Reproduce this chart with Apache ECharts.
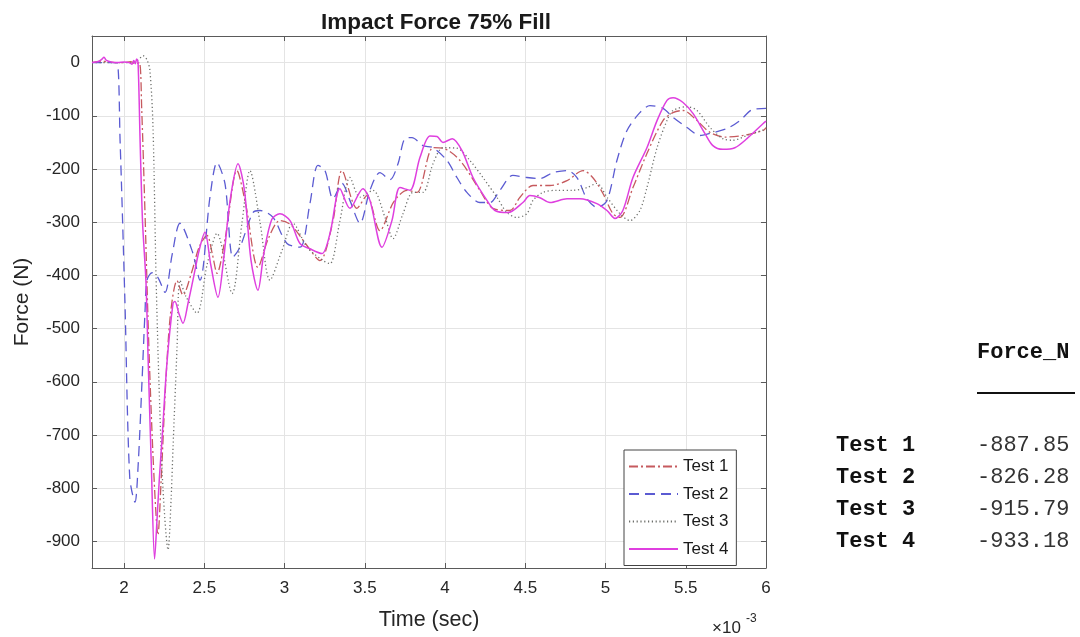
<!DOCTYPE html>
<html>
<head>
<meta charset="utf-8">
<title>Impact Force 75% Fill</title>
<script src="https://cdn.jsdelivr.net/npm/echarts@6/dist/echarts.min.js"></script>
<style>
  html, body { margin: 0; padding: 0; background: #ffffff; }
  #chart { width: 1080px; height: 637px; }
</style>
</head>
<body>
<div id="chart"></div>
<script>
// Time values are in units of 1e-3 s (the axis carries a x10^-3 multiplier).
const seriesNames = ['Test 1', 'Test 2', 'Test 3', 'Test 4'];

const test1Time = [1.80, 1.86, 1.90, 1.95, 2.00, 2.04, 2.07, 2.095, 2.11, 2.13, 2.155, 2.185, 2.211, 2.23, 2.26, 2.29, 2.33, 2.367, 2.42, 2.47, 2.517, 2.55, 2.579, 2.63, 2.703, 2.76, 2.834, 2.90, 2.971, 3.04, 3.13, 3.22, 3.30, 3.358, 3.451, 3.513, 3.594, 3.68, 3.763, 3.825, 3.925, 3.987, 4.093, 4.217, 4.298, 4.404, 4.467, 4.548, 4.654, 4.76, 4.86, 4.92, 4.984, 5.046, 5.09, 5.171, 5.258, 5.358, 5.42, 5.483, 5.57, 5.65, 5.744, 5.856, 5.98, 6.00];
const test1Force = [0, 3, 1, 0, 0, 2, -2, 0, -90, -280, -540, -770, -887.85, -790, -600, -470, -410, -437, -395, -345, -325, -360, -396, -330, -203, -270, -385, -330, -297, -305, -340, -372, -300, -203, -274, -250, -316, -262, -240, -244, -160, -161, -184, -240, -274, -278, -253, -231, -231, -222, -203, -216, -246, -284, -291, -235, -171, -109, -94, -90, -109, -131, -140, -137, -128, -122];

const test2Time = [1.80, 1.86, 1.92, 1.955, 1.975, 2.005, 2.035, 2.068, 2.087, 2.112, 2.13, 2.143, 2.174, 2.211, 2.255, 2.30, 2.348, 2.423, 2.473, 2.535, 2.579, 2.629, 2.678, 2.722, 2.803, 2.847, 2.928, 3.015, 3.096, 3.158, 3.208, 3.252, 3.302, 3.358, 3.407, 3.47, 3.532, 3.594, 3.657, 3.707, 3.75, 3.794, 3.862, 3.925, 4.012, 4.074, 4.136, 4.217, 4.28, 4.342, 4.423, 4.51, 4.591, 4.672, 4.76, 4.822, 4.884, 4.946, 5.009, 5.071, 5.133, 5.214, 5.277, 5.358, 5.421, 5.508, 5.589, 5.651, 5.757, 5.837, 5.918, 6.00];
const test2Force = [0, 0, 0, 0, -147, -447, -779, -826.28, -760, -597, -471, -409, -395, -404, -432, -360, -302, -353, -409, -253, -188, -228, -366, -347, -282, -278, -291, -340, -347, -265, -193, -203, -256, -227, -259, -302, -240, -207, -220, -190, -143, -141, -156, -160, -184, -216, -244, -263, -263, -240, -212, -216, -218, -207, -203, -216, -256, -272, -259, -184, -128, -94, -81, -86, -103, -122, -137, -133, -124, -109, -88, -86];

const test3Time = [1.80, 1.90, 2.00, 2.037, 2.087, 2.118, 2.143, 2.161, 2.18, 2.199, 2.217, 2.242, 2.274, 2.293, 2.305, 2.33, 2.348, 2.386, 2.454, 2.517, 2.579, 2.673, 2.735, 2.784, 2.847, 2.909, 2.984, 3.052, 3.14, 3.239, 3.283, 3.345, 3.407, 3.47, 3.551, 3.626, 3.676, 3.738, 3.80, 3.862, 3.925, 3.987, 4.074, 4.155, 4.236, 4.323, 4.386, 4.448, 4.51, 4.548, 4.61, 4.697, 4.797, 4.884, 4.946, 5.009, 5.09, 5.152, 5.214, 5.258, 5.321, 5.383, 5.421, 5.508, 5.57, 5.651, 5.731, 5.794, 5.881, 6.00];
const test3Force = [0, 0, 0, 0, 5, 13, 5, -15, -120, -400, -600, -800, -915.79, -820, -723, -535, -409, -440, -471, -380, -321, -434, -300, -203, -300, -409, -353, -302, -347, -372, -378, -297, -216, -253, -240, -291, -331, -284, -244, -244, -190, -160, -161, -184, -216, -253, -282, -291, -284, -259, -244, -240, -240, -235, -227, -253, -284, -297, -278, -235, -160, -109, -90, -83, -90, -122, -143, -146, -137, -125];

const test4Time = [1.80, 1.84, 1.86, 1.875, 1.89, 1.92, 1.96, 2.00, 2.03, 2.05, 2.06, 2.07, 2.078, 2.087, 2.10, 2.115, 2.136, 2.15, 2.17, 2.19, 2.205, 2.22, 2.236, 2.267, 2.305, 2.317, 2.34, 2.367, 2.40, 2.429, 2.47, 2.504, 2.54, 2.585, 2.62, 2.66, 2.71, 2.75, 2.79, 2.834, 2.87, 2.92, 2.971, 3.034, 3.096, 3.158, 3.233, 3.283, 3.345, 3.407, 3.488, 3.532, 3.607, 3.669, 3.719, 3.781, 3.844, 3.906, 3.95, 3.987, 4.045, 4.105, 4.174, 4.261, 4.311, 4.392, 4.485, 4.529, 4.591, 4.654, 4.76, 4.84, 4.946, 5.009, 5.059, 5.108, 5.171, 5.258, 5.321, 5.383, 5.421, 5.483, 5.546, 5.619, 5.669, 5.731, 5.806, 5.881, 5.981, 6.00];
const test4Force = [0, 2, 6, 10, 4, 1, 0, 1, 0, -3, 4, -2, 7, 0, -150, -300, -410, -560, -760, -933.18, -860, -780, -710, -565, -452, -449, -470, -490, -450, -409, -350, -319, -380, -441, -370, -260, -190, -240, -370, -428, -360, -295, -284, -297, -340, -350, -359, -321, -237, -274, -237, -259, -347, -297, -235, -240, -178, -138, -139, -150, -143, -165, -216, -259, -278, -282, -263, -250, -254, -263, -256, -256, -265, -278, -293, -278, -216, -160, -109, -71, -66, -75, -96, -133, -156, -163, -160, -143, -115, -110];

const timeTicks = [2, 2.5, 3, 3.5, 4, 4.5, 5, 5.5, 6];
const forceTicks = [0, -100, -200, -300, -400, -500, -600, -700, -800, -900];

const seriesTimes = [test1Time, test2Time, test3Time, test4Time];
const seriesForces = [test1Force, test2Force, test3Force, test4Force];

const colors = ['#c65a5e', '#5b5bd2', '#6e706c', '#df3fdf'];
const dashes = [[9, 3, 2, 3], [10, 6], [1.2, 2.6], 'solid'];
const widths = [1.3, 1.3, 1.3, 1.5];

const uiFont = "'Liberation Sans', Arial, sans-serif";
const monoFont = "'Liberation Mono', 'Courier New', monospace";

const chart = echarts.init(document.getElementById('chart'), null, { renderer: 'canvas' });

const series = seriesNames.map((name, i) => ({
  name: name,
  type: 'line',
  xAxisIndex: 0,
  yAxisIndex: 0,
  data: seriesTimes[i].map((t, k) => [t, seriesForces[i][k]]),
  symbol: 'none',
  showSymbol: false,
  smooth: 0.3,
  lineStyle: { color: colors[i], width: widths[i], type: dashes[i] },
  itemStyle: { color: colors[i] },
  z: i === 3 ? 5 : 3
}));

// Peak (minimum) force per test, shown in the table beside the plot.
const peaks = seriesForces.map(f => Math.min.apply(null, f));

const tableGraphics = [
  { type: 'text', left: 977, top: 341, style: { text: 'Force_N', font: 'bold 22px ' + monoFont, fill: '#111' } },
  { type: 'line', shape: { x1: 977, y1: 393, x2: 1075, y2: 393 }, style: { stroke: '#111', lineWidth: 2 } }
];
seriesNames.forEach((name, i) => {
  tableGraphics.push({ type: 'text', left: 836, top: 434 + 32 * i, style: { text: name, font: 'bold 22px ' + monoFont, fill: '#111' } });
  tableGraphics.push({ type: 'text', left: 977, top: 434 + 32 * i, style: { text: peaks[i].toFixed(2), font: '22px ' + monoFont, fill: '#333' } });
});

const axisColor = '#5a5a5a';
const labelColor = '#262626';

function boxAxis(position, min, max, ticks) {
  return {
    type: 'value',
    min: min,
    max: max,
    position: position,
    axisLine: { show: true, onZero: false, lineStyle: { color: axisColor, width: 1 } },
    axisTick: { show: true, inside: true, length: 5, customValues: ticks, lineStyle: { color: axisColor } },
    axisLabel: { show: false },
    splitLine: { show: false }
  };
}

chart.setOption({
  animation: false,
  backgroundColor: '#ffffff',
  title: {
    text: 'Impact Force 75% Fill',
    left: 431,
    textAlign: 'center',
    top: 6,
    textStyle: { fontFamily: uiFont, fontWeight: 'bold', fontSize: 22.5, color: '#1a1a1a' }
  },
  grid: { left: 92, right: 314, top: 36, bottom: 69, containLabel: false },
  legend: {
    orient: 'vertical',
    left: 624,
    top: 450,
    data: seriesNames,
    itemWidth: 49,
    itemHeight: 14,
    itemGap: 10.5,
    padding: [8, 8, 8, 4],
    backgroundColor: '#ffffff',
    borderColor: '#444',
    borderWidth: 1,
    itemStyle: { opacity: 0 },
    textStyle: { fontFamily: uiFont, fontSize: 17, color: '#1a1a1a' }
  },
  xAxis: [{
    type: 'value',
    min: 1.8,
    max: 6,
    position: 'bottom',
    name: 'Time (sec)',
    nameLocation: 'middle',
    nameGap: 41,
    nameTextStyle: { fontFamily: uiFont, fontSize: 21.5, color: labelColor },
    axisLine: { show: true, onZero: false, lineStyle: { color: axisColor, width: 1 } },
    axisTick: { show: true, inside: true, length: 5, customValues: timeTicks, lineStyle: { color: axisColor } },
    axisLabel: { customValues: timeTicks, margin: 12, fontFamily: uiFont, fontSize: 17, color: labelColor, formatter: v => String(v) },
    splitLine: { show: true, lineStyle: { color: '#e4e4e4', width: 1 } }
  }, boxAxis('top', 1.8, 6, timeTicks)],
  yAxis: [{
    type: 'value',
    min: -950,
    max: 50,
    position: 'left',
    name: 'Force (N)',
    nameLocation: 'middle',
    nameGap: 59,
    nameTextStyle: { fontFamily: uiFont, fontSize: 21, color: labelColor },
    axisLine: { show: true, onZero: false, lineStyle: { color: axisColor, width: 1 } },
    axisTick: { show: true, inside: true, length: 5, customValues: forceTicks, lineStyle: { color: axisColor } },
    axisLabel: { customValues: forceTicks, margin: 12, fontFamily: uiFont, fontSize: 17, color: labelColor },
    splitLine: { show: true, lineStyle: { color: '#e4e4e4', width: 1 } }
  }, boxAxis('right', -950, 50, forceTicks)],
  series: series,
  graphic: [
    { type: 'text', left: 712, top: 620, style: { text: '\u00d710', font: '17px ' + uiFont, fill: labelColor } },
    { type: 'text', left: 746, top: 613, style: { text: '-3', font: '12px ' + uiFont, fill: labelColor } }
  ].concat(tableGraphics)
});
</script>
</body>
</html>
